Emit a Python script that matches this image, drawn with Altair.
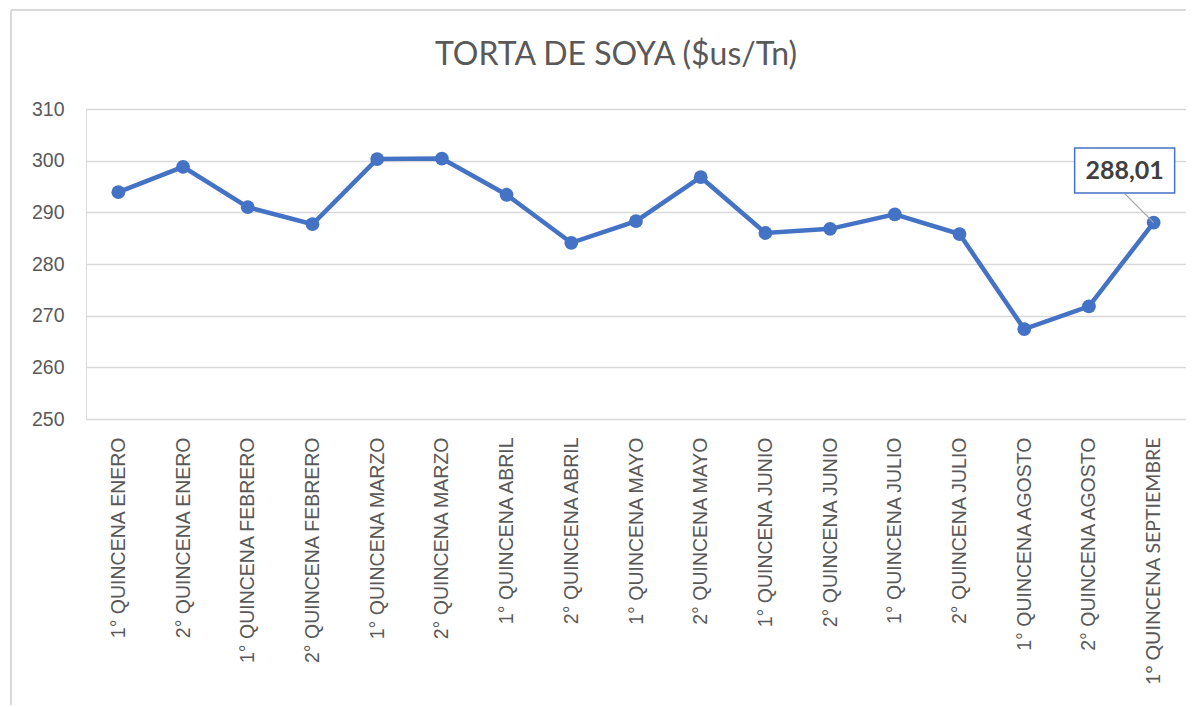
import altair as alt
import pandas as pd

categories = [
    "1° QUINCENA ENERO", "2° QUINCENA ENERO", "1° QUINCENA FEBRERO", "2° QUINCENA FEBRERO",
    "1° QUINCENA MARZO", "2° QUINCENA MARZO", "1° QUINCENA ABRIL", "2° QUINCENA ABRIL",
    "1° QUINCENA MAYO", "2° QUINCENA MAYO", "1° QUINCENA JUNIO", "2° QUINCENA JUNIO",
    "1° QUINCENA JULIO", "2° QUINCENA JULIO", "1° QUINCENA AGOSTO", "2° QUINCENA AGOSTO",
    "1° QUINCENA SEPTIEMBRE",
]
values = [293.9, 298.8, 291.0, 287.7, 300.3, 300.4, 293.4, 284.1, 288.3, 296.8,
          286.0, 286.8, 289.6, 285.8, 267.4, 271.8, 288.01]
y_ticks = [250, 260, 270, 280, 290, 300, 310]
label_text = ["288,01"]
title_text = ["TORTA DE SOYA ($us/Tn)"]

df = pd.DataFrame({"cat": categories, "val": values, "order": list(range(len(values)))})
last = df.tail(1).copy()
last["lab"] = label_text
title_df = pd.DataFrame({"t": title_text})

BLUE = "#4472C4"

x = alt.X("cat:N", sort=categories, scale=alt.Scale(type="point", padding=0.5),
          axis=alt.Axis(title=None, labelAngle=-90, labelFontSize=19.5, labelColor="#595959",
                        labelFont=alt.expr("datum.value == '1° QUINCENA SEPTIEMBRE' ? 'Lato' : 'Liberation Sans'"),
                        labelPadding=18, ticks=False,
                        domain=False, grid=False, labelLimit=300))
y = alt.Y("val:Q", scale=alt.Scale(domain=[250, 310], nice=False, zero=False),
          axis=alt.Axis(title=None, values=y_ticks, labelFontSize=19.5, labelColor="#595959",
                        labelFont="Liberation Sans", labelPadding=22, ticks=False,
                        domain=False, gridColor="#D9D9D9", gridWidth=1.3))

line = alt.Chart(df).mark_line(color=BLUE, strokeWidth=4.5).encode(x=x, y=y, order="order:Q")
pts = alt.Chart(df).mark_point(filled=True, color=BLUE, size=190, opacity=1).encode(x=x, y=y)

leader = alt.Chart(last).mark_rule(color="#A6A6A6", strokeWidth=1.3, x2Offset=-29, y2Offset=-29).encode(
    x=x, y=y, x2="cat:N", y2="val:Q")
box = alt.Chart(last).mark_point(
    shape="M-1,-0.45L1,-0.45L1,0.45L-1,0.45Z", size=10000, filled=True, fill="white",
    stroke=BLUE, strokeWidth=1.5, opacity=1, fillOpacity=1, xOffset=-29, yOffset=-52
).encode(x=x, y=y)
txt = alt.Chart(last).mark_text(
    dx=-29, dy=-52, fontSize=25, fontWeight="bold", color="#404040", font="Lato", baseline="middle"
).encode(x=x, y=y, text="lab:N")

title = alt.Chart(title_df).mark_text(
    font="Lato", fontSize=32, color="#595959", align="center", baseline="alphabetic"
).encode(x=alt.value(530), y=alt.value(-44), text="t:N")

border_l = alt.Chart(last).mark_rule(color="#D9D9D9", strokeWidth=2, clip=False).encode(
    x=alt.value(-75), y=alt.value(-99), y2=alt.value(600))
border_t = alt.Chart(last).mark_rule(color="#D9D9D9", strokeWidth=2, clip=False).encode(
    x=alt.value(-75), x2=alt.value(1200), y=alt.value(-99))

chart = alt.layer(border_l, border_t, title, line, pts, leader, box, txt).properties(
    width=1100, height=310,
    padding={"left": 78, "top": 101, "right": 0, "bottom": 286},
    autosize=alt.AutoSizeParams(type="none"),
).configure_view(stroke=None).configure(background="white")

chart.save("out.html", embed_options={"renderer": "svg", "actions": False})
